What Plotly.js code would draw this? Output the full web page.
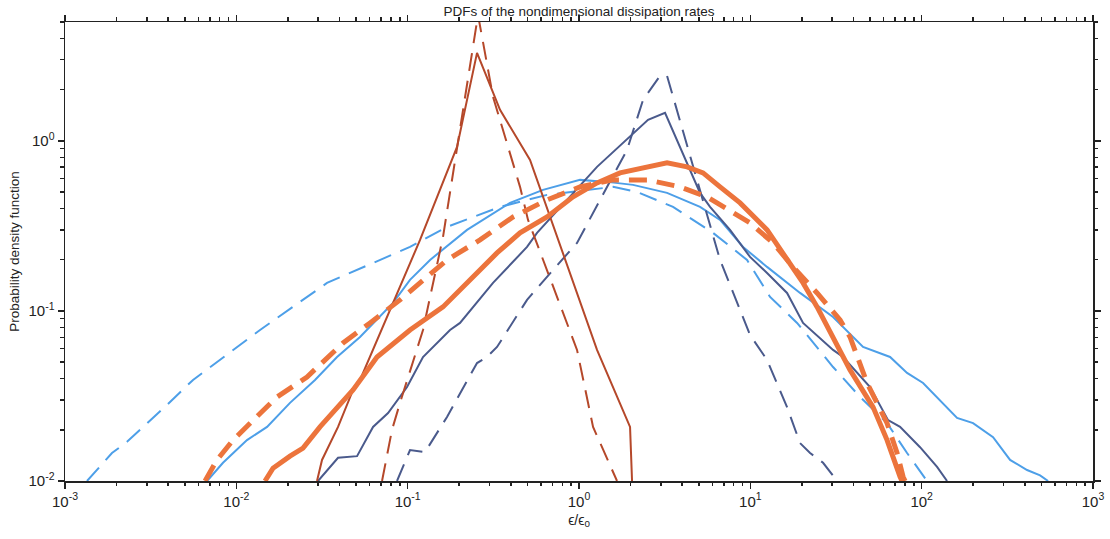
<!DOCTYPE html>
<html>
<head>
<meta charset="utf-8">
<script src="https://cdn.plot.ly/plotly-3.0.1.min.js"></script>
<style>
html,body{margin:0;padding:0;background:#fff;}
#chart{width:1110px;height:539px;}
</style>
</head>
<body>
<div id="chart"></div>
<script>
// Light blue, solid
const lbS_x = [0.00675,0.00836,0.01154,0.01511,0.02057,0.02879,0.03871,0.05272,0.08212,0.1032,0.1351,0.2221,0.3958,0.6166,1.014,1.458,2.068,3.265,5.087,6.657,9.068,12.52,19.51,30.40,45.49,65.40,82.19,101.9,160.9,199.5,261.1,328.1,412.3,491.0,546.8];
const lbS_y = [0.0100,0.0128,0.0174,0.0208,0.0288,0.0393,0.0536,0.0703,0.1115,0.1522,0.1995,0.2996,0.4318,0.5150,0.5897,0.5739,0.5511,0.4944,0.4090,0.3429,0.2379,0.1815,0.1276,0.0922,0.0614,0.0536,0.0432,0.0377,0.0235,0.0219,0.0181,0.0133,0.0116,0.0108,0.0100];
// Light blue, dashed
const lbD_x = [0.001344,0.00188,0.002301,0.003938,0.005587,0.01375,0.03383,0.1032,0.1697,0.346,0.6506,1.114,1.580,2.182,3.539,6.058,9.568,13.04,18.74,30.40,43.69,62.81,82.19,107.5];
const lbD_y = [0.0100,0.0146,0.0170,0.0280,0.0393,0.0773,0.1461,0.2379,0.3120,0.4090,0.4813,0.5150,0.5364,0.5012,0.4090,0.2876,0.1995,0.1209,0.0850,0.0468,0.0312,0.0219,0.0146,0.0100];
// Navy, solid
const nvS_x = [0.02997,0.03923,0.05064,0.06279,0.07683,0.09915,0.1229,0.1767,0.2021,0.3149,0.4974,0.569,0.8515,1.274,2.529,3.178,5.087,5.819,7.612,9.961,12.52,16.38,20.31,30.40,34.77,49.98,63.67,74.80,97.86,123.0,140.7];
const nvS_y = [0.0100,0.0137,0.0140,0.0208,0.0251,0.0357,0.0536,0.0773,0.0850,0.1461,0.2379,0.2876,0.4497,0.7032,1.329,1.461,0.4944,0.4090,0.2996,0.2078,0.1673,0.1276,0.0850,0.0590,0.0536,0.0357,0.0228,0.0208,0.0158,0.0121,0.0100];
// Navy, dashed
const nvD_x = [0.08667,0.1032,0.1263,0.1315,0.1697,0.2540,0.2905,0.3323,0.4974,0.7055,0.9739,1.327,1.908,2.365,2.972,3.265,5.087,5.819,6.657,9.961,12.52,16.38,19.51,22.32,26.58,32.08];
const nvD_y = [0.0100,0.0152,0.0148,0.0158,0.0238,0.0494,0.0536,0.0614,0.1161,0.1743,0.2512,0.4497,0.8853,1.742,2.412,2.412,0.5150,0.3120,0.1995,0.0722,0.0515,0.0272,0.0167,0.0146,0.0128,0.0100];
// Brown, solid
const brS_x = [0.02957,0.03163,0.03923,0.04799,0.05272,0.1181,0.1941,0.2540,0.3460,0.5178,1.274,1.986,2.040];
const brS_y = [0.0100,0.0133,0.0208,0.0343,0.0393,0.2616,0.9220,3.293,1.522,0.7731,0.0590,0.0208,0.0100];
// Brown, dashed
const brD_x = [0.07086,0.08103,0.09023,0.1229,0.1608,0.2104,0.2574,0.3149,0.4527,0.5041,0.9739,1.208,1.667];
const brD_y = [0.0100,0.0200,0.0288,0.0773,0.2724,1.522,5.5,1.815,0.5364,0.3429,0.0590,0.0208,0.0100];
// Orange, solid (thick)
const orS_x = [0.01470,0.01637,0.02057,0.02450,0.03078,0.03871,0.04799,0.06625,0.1032,0.1608,0.2221,0.3323,0.4527,0.6506,0.9230,1.274,1.736,2.496,3.265,4.273,5.297,6.657,8.710,12.52,16.38,20.31,24.52,30.40,38.19,52.04,62.81,74.80,76.8];
const orS_y = [0.0100,0.0119,0.0140,0.0156,0.0208,0.0272,0.0343,0.0536,0.0773,0.1056,0.1461,0.2194,0.2876,0.3571,0.4684,0.5662,0.6483,0.7032,0.7425,0.7032,0.6483,0.5364,0.4318,0.2996,0.1995,0.1461,0.1056,0.0703,0.0450,0.0272,0.0174,0.0106,0.0100];
// Orange, dashed (thick)
const orD_x = [0.006568,0.007713,0.009563,0.01321,0.01727,0.02586,0.04195,0.06031,0.09023,0.1697,0.2645,0.4121,0.6506,1.014,1.580,2.496,3.889,5.589,7.925,9.961,13.57,17.76,24.52,33.40,38.19,48.01,62.81,71.85,77.88,80.0];
const orD_y = [0.0100,0.0133,0.0174,0.0238,0.0312,0.0409,0.0648,0.0850,0.1161,0.1995,0.2616,0.3571,0.4497,0.5364,0.5897,0.5897,0.5364,0.4684,0.3771,0.3292,0.2512,0.1815,0.1276,0.0885,0.0703,0.0377,0.0219,0.0146,0.0106,0.0100];

// Axis tick labels
const xTickVals = [1e-3,1e-2,1e-1,1e0,1e1,1e2,1e3];
const xTickText = ['10<sup>-3</sup>','10<sup>-2</sup>','10<sup>-1</sup>','10<sup>0</sup>','10<sup>1</sup>','10<sup>2</sup>','10<sup>3</sup>'];
const yTickVals = [1e-2,1e-1,1e0];
const yTickText = ['10<sup>-2</sup>','10<sup>-1</sup>','10<sup>0</sup>'];

const C_LB = '#4d9fe8', C_NV = '#4a5a8c', C_BR = '#b5482a', C_OR = '#ec743c';

function minorVals(lo, hi) {
  const out = [];
  for (let e = lo; e < hi; e++) for (let m = 2; m <= 9; m++) out.push(m * Math.pow(10, e));
  return out;
}

function tr(x, y, color, width, dash) {
  return {x: x, y: y, type: 'scatter', mode: 'lines',
          line: {color: color, width: width, dash: dash}, hoverinfo: 'skip', showlegend: false};
}

const data = [
  tr(lbD_x, lbD_y, C_LB, 2, '18px,10px'),
  tr(lbS_x, lbS_y, C_LB, 2, 'solid'),
  tr(nvD_x, nvD_y, C_NV, 2, '18px,10px'),
  tr(nvS_x, nvS_y, C_NV, 2, 'solid'),
  tr(brD_x, brD_y, C_BR, 2, '18px,10px'),
  tr(brS_x, brS_y, C_BR, 2, 'solid'),
  tr(orD_x, orD_y, C_OR, 5, '18px,10px'),
  tr(orS_x, orS_y, C_OR, 5, 'solid')
];

const axisCommon = {
  type: 'log', showgrid: false, zeroline: false,
  showline: true, linecolor: '#222', linewidth: 1.5, mirror: 'ticks',
  ticks: 'outside', ticklen: 6, tickwidth: 1.5, tickcolor: '#222',
  tickmode: 'array',
  tickfont: {family: 'Liberation Sans, Arial, sans-serif', size: 15, color: '#222'}
};

const layout = {
  width: 1110, height: 539,
  margin: {l: 65, r: 17, t: 22, b: 58},
  paper_bgcolor: '#fff', plot_bgcolor: '#fff',
  font: {family: 'Liberation Sans, Arial, sans-serif', color: '#222'},
  title: {text: 'PDFs of the nondimensional dissipation rates',
          font: {size: 13.5, color: '#222'},
          x: 0.5, xref: 'paper', xanchor: 'center',
          y: 1, yref: 'paper', yanchor: 'bottom', pad: {b: 6}},
  xaxis: Object.assign({}, axisCommon, {
    range: [-3, 3], tickvals: xTickVals, ticktext: xTickText,
    minor: {tickmode: 'array', tickvals: minorVals(-3, 3), ticks: 'outside', ticklen: 3.5, tickwidth: 1.5, tickcolor: '#222', showgrid: false},
    title: {text: 'ϵ/ϵ<sub>0</sub>', font: {size: 14, color: '#222'}, standoff: 6}
  }),
  yaxis: Object.assign({}, axisCommon, {
    range: [-2, Math.log10(5)], tickvals: yTickVals, ticktext: yTickText,
    minor: {tickmode: 'array', tickvals: minorVals(-2, 1), ticks: 'outside', ticklen: 3.5, tickwidth: 1.5, tickcolor: '#222', showgrid: false},
    title: {text: 'Probability density function', font: {size: 13.5, color: '#222'}, standoff: 5}
  })
};

Plotly.newPlot('chart', data, layout, {displayModeBar: false, staticPlot: true});
</script>
</body>
</html>
